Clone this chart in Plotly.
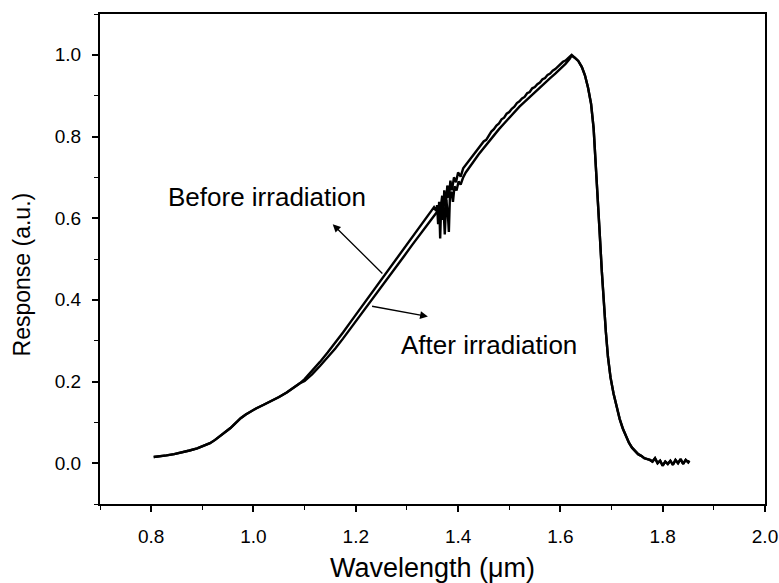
import plotly.graph_objects as go

# ---- data ----
wl_common = [0.805, 0.815, 0.83, 0.845, 0.86, 0.875, 0.89, 0.905, 0.915, 0.925, 0.935, 0.945,
             0.955, 0.965, 0.975, 0.985, 0.995, 1.005, 1.02, 1.035, 1.05, 1.065, 1.08, 1.09]
resp_common = [0.015, 0.016, 0.019, 0.022, 0.026, 0.031, 0.036, 0.043, 0.049, 0.057, 0.066, 0.076,
               0.086, 0.098, 0.110, 0.119, 0.127, 0.134, 0.143, 0.152, 0.162, 0.173, 0.186, 0.195]

wl_before_mid = [1.10, 1.115, 1.13, 1.145, 1.16, 1.175, 1.19, 1.205, 1.22, 1.235, 1.25, 1.265, 1.28,
                 1.295, 1.31, 1.325, 1.34, 1.348, 1.353, 1.357, 1.359, 1.361, 1.363, 1.365, 1.367,
                 1.369, 1.371, 1.373, 1.376, 1.379, 1.382, 1.385, 1.388, 1.392, 1.396, 1.400, 1.405,
                 1.41, 1.415, 1.42, 1.43, 1.44, 1.45, 1.455, 1.46, 1.465, 1.47, 1.475, 1.48, 1.485,
                 1.49, 1.495, 1.50, 1.505, 1.51, 1.515, 1.52, 1.525, 1.53, 1.535, 1.54, 1.545, 1.55,
                 1.555, 1.56, 1.565, 1.57, 1.575, 1.58, 1.585, 1.59, 1.595, 1.60, 1.605, 1.61, 1.615,
                 1.618, 1.622]
resp_before_mid = [0.206, 0.226, 0.248, 0.271, 0.295, 0.320, 0.346, 0.372, 0.398, 0.424, 0.450, 0.476,
                   0.501, 0.527, 0.553, 0.578, 0.604, 0.618, 0.627, 0.618, 0.632, 0.585, 0.640, 0.550,
                   0.635, 0.655, 0.605, 0.668, 0.630, 0.680, 0.650, 0.692, 0.668, 0.700, 0.688, 0.712,
                   0.702, 0.722, 0.730, 0.738, 0.755, 0.772, 0.788, 0.792, 0.802, 0.812, 0.818, 0.827,
                   0.832, 0.842, 0.846, 0.856, 0.860, 0.868, 0.873, 0.882, 0.886, 0.893, 0.897, 0.906,
                   0.909, 0.918, 0.921, 0.928, 0.932, 0.940, 0.943, 0.951, 0.954, 0.961, 0.965, 0.971,
                   0.975, 0.983, 0.986, 0.992, 0.995, 1.000]

wl_after_mid = [1.10, 1.115, 1.13, 1.145, 1.16, 1.175, 1.19, 1.205, 1.22, 1.235, 1.25, 1.265, 1.28,
                1.295, 1.31, 1.325, 1.34, 1.35, 1.358, 1.362, 1.365, 1.368, 1.371, 1.374, 1.377,
                1.380, 1.382, 1.384, 1.387, 1.390, 1.393, 1.397, 1.401, 1.405, 1.41, 1.415, 1.42,
                1.43, 1.44, 1.45, 1.46, 1.47, 1.48, 1.49, 1.50, 1.51, 1.52, 1.53, 1.54, 1.55, 1.56,
                1.57, 1.58, 1.59, 1.60, 1.61, 1.618, 1.622]
resp_after_mid = [0.201, 0.218, 0.238, 0.259, 0.281, 0.305, 0.330, 0.355, 0.381, 0.406, 0.432, 0.457,
                  0.483, 0.508, 0.534, 0.559, 0.585, 0.601, 0.614, 0.608, 0.625, 0.596, 0.640, 0.560,
                  0.645, 0.610, 0.566, 0.650, 0.665, 0.640, 0.678, 0.668, 0.690, 0.682, 0.700, 0.712,
                  0.720, 0.738, 0.756, 0.772, 0.788, 0.803, 0.818, 0.832, 0.846, 0.860, 0.873, 0.885,
                  0.897, 0.909, 0.920, 0.932, 0.943, 0.954, 0.965, 0.978, 0.990, 0.998]

wl_tail = [1.628, 1.635, 1.642, 1.648, 1.654, 1.660, 1.665, 1.669, 1.673, 1.677, 1.681, 1.685, 1.689,
           1.693, 1.698, 1.704, 1.710, 1.716, 1.722, 1.728, 1.734, 1.740, 1.746, 1.752, 1.758, 1.764,
           1.770, 1.775, 1.780, 1.785, 1.790, 1.795, 1.800, 1.805, 1.810, 1.815, 1.820, 1.825, 1.830,
           1.835, 1.840, 1.845, 1.850, 1.852]
resp_tail = [0.993, 0.985, 0.970, 0.950, 0.920, 0.880, 0.820, 0.740, 0.650, 0.560, 0.470, 0.390, 0.320,
             0.260, 0.210, 0.170, 0.135, 0.108, 0.085, 0.066, 0.050, 0.038, 0.030, 0.022, 0.018, 0.012,
             0.010, 0.008, 0.004, 0.012, 0.000, 0.006, -0.006, 0.004, -0.002, 0.006, -0.004, 0.008, 0.000,
             0.010, -0.002, 0.008, 0.002, 0.006]

wl_before = wl_common + wl_before_mid + wl_tail
resp_before = resp_common + resp_before_mid + resp_tail
wl_after = wl_common + wl_after_mid + wl_tail
resp_after = resp_common + resp_after_mid + resp_tail

x_ticks = [0.8, 1.0, 1.2, 1.4, 1.6, 1.8, 2.0]
y_ticks = [0.0, 0.2, 0.4, 0.6, 0.8, 1.0]

FONT = "Liberation Sans, Arial, sans-serif"

fig = go.Figure()
fig.add_trace(go.Scatter(x=wl_before, y=resp_before, mode="lines", name="Before irradiation",
                         line=dict(color="black", width=2.4)))
fig.add_trace(go.Scatter(x=wl_after, y=resp_after, mode="lines", name="After irradiation",
                         line=dict(color="black", width=2.4)))

fig.update_layout(
    width=779, height=583,
    margin=dict(l=100, r=14, t=14, b=79),
    paper_bgcolor="white", plot_bgcolor="white",
    showlegend=False,
    font=dict(family=FONT, color="black"),
    annotations=[
        dict(x=1.027, y=0.651, xref="x", yref="y", text="Before irradiation", showarrow=False,
             font=dict(size=26, family=FONT, color="black")),
        dict(x=1.461, y=0.29, xref="x", yref="y", text="After irradiation", showarrow=False,
             font=dict(size=26, family=FONT, color="black")),
        dict(x=1.155, y=0.585, ax=1.255, ay=0.461, xref="x", yref="y", axref="x", ayref="y",
             text="", showarrow=True, arrowhead=2, arrowsize=1.2, arrowwidth=1.3, arrowcolor="black"),
        dict(x=1.341, y=0.359, ax=1.229, ay=0.385, xref="x", yref="y", axref="x", ayref="y",
             text="", showarrow=True, arrowhead=2, arrowsize=1.2, arrowwidth=1.3, arrowcolor="black"),
        dict(x=-0.118, y=0.461, xref="paper", yref="y", text="Response (a.u.)", textangle=-90,
             showarrow=False, xanchor="center", yanchor="middle",
             font=dict(size=23, family=FONT, color="black")),
    ],
)

fig.update_xaxes(
    range=[0.7, 2.0], tickvals=x_ticks, ticktext=[f"{v:.1f}" for v in x_ticks],
    showgrid=False, zeroline=False, showline=True, linecolor="black", linewidth=2, mirror=True,
    ticks="outside", ticklen=6, tickwidth=1.5, tickcolor="black", ticklabelstandoff=8,
    automargin=False,
    minor=dict(ticks="outside", ticklen=4, tickwidth=1.2, tickcolor="black", dtick=0.1, tick0=0.7),
    tickfont=dict(size=19, family=FONT, color="black"),
    title=dict(text="Wavelength (μm)", font=dict(size=27, family=FONT, color="black"), standoff=22),
)
fig.update_yaxes(
    range=[-0.1, 1.1], tickvals=y_ticks, ticktext=[f"{v:.1f}" for v in y_ticks],
    showgrid=False, zeroline=False, showline=True, linecolor="black", linewidth=2, mirror=True,
    ticks="outside", ticklen=6, tickwidth=1.5, tickcolor="black", ticklabelstandoff=7,
    automargin=False,
    minor=dict(ticks="outside", ticklen=4, tickwidth=1.2, tickcolor="black", dtick=0.1, tick0=-0.1),
    tickfont=dict(size=19, family=FONT, color="black"),
)

fig.write_html("out.html")
